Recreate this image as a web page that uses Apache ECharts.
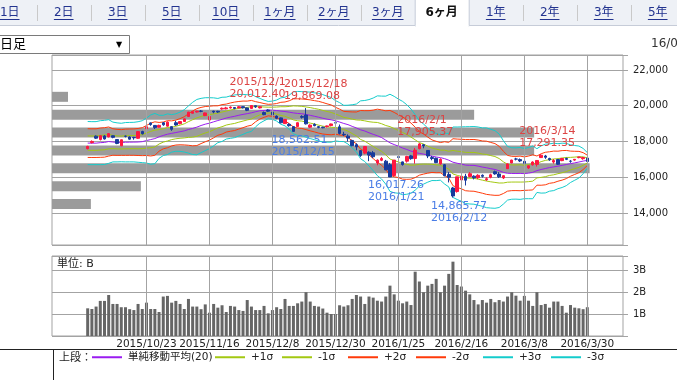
<!DOCTYPE html>
<html><head><meta charset="utf-8">
<script src="https://cdn.jsdelivr.net/npm/echarts@6/dist/echarts.min.js"></script>
<style>html,body{margin:0;padding:0;background:#fff;overflow:hidden}#c{width:677px;height:380px}</style>
</head><body><div id="c"></div>
<script>
// ---------------- data ----------------
const dates = [
'2015/10/2','2015/10/5','2015/10/6','2015/10/7','2015/10/8','2015/10/9','2015/10/13','2015/10/14','2015/10/15','2015/10/16','2015/10/19','2015/10/20','2015/10/21','2015/10/22','2015/10/23','2015/10/26','2015/10/27','2015/10/28','2015/10/29','2015/10/30',
'2015/11/2','2015/11/4','2015/11/5','2015/11/6','2015/11/9','2015/11/10','2015/11/11','2015/11/12','2015/11/13','2015/11/16','2015/11/17','2015/11/18','2015/11/19','2015/11/20','2015/11/24','2015/11/25','2015/11/26','2015/11/27','2015/11/30',
'2015/12/1','2015/12/2','2015/12/3','2015/12/4','2015/12/7','2015/12/8','2015/12/9','2015/12/10','2015/12/11','2015/12/14','2015/12/15','2015/12/16','2015/12/17','2015/12/18','2015/12/21','2015/12/22','2015/12/24','2015/12/25','2015/12/28','2015/12/29','2015/12/30',
'2016/1/4','2016/1/5','2016/1/6','2016/1/7','2016/1/8','2016/1/12','2016/1/13','2016/1/14','2016/1/15','2016/1/18','2016/1/19','2016/1/20','2016/1/21','2016/1/22','2016/1/25','2016/1/26','2016/1/27','2016/1/28','2016/1/29',
'2016/2/1','2016/2/2','2016/2/3','2016/2/4','2016/2/5','2016/2/8','2016/2/9','2016/2/10','2016/2/12','2016/2/15','2016/2/16','2016/2/17','2016/2/18','2016/2/19','2016/2/22','2016/2/23','2016/2/24','2016/2/25','2016/2/26','2016/2/29',
'2016/3/1','2016/3/2','2016/3/3','2016/3/4','2016/3/7','2016/3/8','2016/3/9','2016/3/10','2016/3/11','2016/3/14','2016/3/15','2016/3/16','2016/3/17','2016/3/18','2016/3/22','2016/3/23','2016/3/24','2016/3/25','2016/3/28','2016/3/29','2016/3/30'];

// [open, close, low, high]
const ohlc = [
[17600,17725,17560,17760],[17940,18005,17890,18060],[18300,18186,18140,18340],[18110,18322,18060,18340],[18310,18141,18110,18360],
[18260,18438,18230,18470],[18320,18234,18180,18340],[18110,17891,17850,18130],[17760,18097,17740,18110],[18300,18291,18230,18330],
[18250,18131,18100,18290],[18230,18207,18100,18260],[18180,18554,18150,18580],[18560,18435,18390,18600],[18720,18825,18700,18860],
[19040,18947,18880,19060],[18900,18777,18700,18920],[18800,18903,18780,18940],[19050,18935,18880,19080],[18860,19083,18830,19130],
[18830,18683,18600,18850],[19050,18927,18880,19160],[19000,19116,18960,19140],[19120,19265,19100,19300],[19400,19643,19390,19660],
[19580,19671,19570,19700],[19650,19698,19620,19720],[19700,19691,19640,19760],[19450,19597,19420,19620],[19200,19394,19150,19420],
[19700,19650,19580,19720],[19690,19649,19600,19720],[19820,19860,19780,19900],[19830,19880,19800,19940],[19880,19925,19840,19960],
[19900,19848,19800,19920],[19880,19944,19860,19980],[19950,19884,19850,19960],[19880,19747,19700,19900],[19850,20012.40,19840,20012.40],
[20000,19938,19880,20010],[19880,19940,19850,19960],[19620,19504,19470,19680],[19760,19698,19660,19800],[19640,19493,19460,19660],
[19420,19301,19250,19460],[19320,19047,19010,19340],[19000,19230,18980,19250],[18960,18883,18830,19020],[18830,18566,18562.51,18860],
[18840,19050,18820,19080],[19400,19354,19280,19470],[19480,18987,18950,19869.08],[18800,18916,18750,18960],[18960,18887,18850,19020],
[18830,18790,18740,18870],[18800,18769,18740,18830],[18830,18873,18780,18890],[18890,18982,18850,19000],[19050,19034,18990,19110],
[18820,18451,18390,18950],[18400,18374,18300,18540],[18300,18191,18000,18400],[18060,17767,17730,18100],[17820,17698,17510,17900],
[17490,17219,17140,17520],[17350,17716,17290,17750],[17400,17241,16900,17450],[17370,17147,17070,17470],[16800,16956,16670,17000],
[16950,17048,16900,17130],[16900,16416,16390,16970],[16700,16017.26,16017.26,16800],[16100,16959,16080,16960],[17150,17111,17020,17200],
[16860,16709,16650,16880],[16900,17164,16820,17200],[17200,17041,16980,17250],[17050,17518,16760,17640],[17600,17865,17560,17905.37],
[17820,17751,17620,17840],[17500,17191,17070,17520],[17100,17045,16950,17190],[17060,16820,16790,17100],[16750,17004,16700,17060],
[16700,16085,16050,16740],[16150,16003,15710,16290],[15400,14953,14865.77,15460],[15200,16023,15140,16030],[15850,16054,15830,16240],
[16050,15836,15540,16190],[16040,16197,16000,16290],[16060,15967,15880,16110],[15970,16111,15900,16170],[16110,16052,15980,16160],
[15860,15916,15800,16000],[16000,16140,15940,16200],[16310,16188,16140,16370],[16180,16027,15960,16290],[15960,16086,15900,16110],
[16480,16747,16470,16770],[16800,16960,16780,16980],[17020,17015,16940,17090],[16990,16911,16850,17050],[16890,16783,16730,16930],
[16520,16642,16460,16670],[16700,16852,16650,16890],[16720,16939,16600,16960],[17100,17234,17080,17291.35],[17190,17117,17030,17250],
[17050,16974,16920,17090],[16850,16936,16760,17020],[16990,16725,16690,17030],[16930,17049,16900,17080],[17050,17001,16960,17100],
[16900,16892,16810,16960],[16960,17003,16920,17020],[17100,17134,17060,17150],[17040,17104,16980,17140],[17070,16879,16850,17090]];

// volume, billions of shares
const volume = [
1.27,1.24,1.35,1.61,1.61,1.88,1.47,1.47,1.32,1.32,
1.23,1.19,1.47,1.24,1.53,1.24,1.24,1.10,1.81,1.84,
1.53,1.61,1.47,1.24,1.70,1.35,1.35,1.23,1.45,1.07,
1.47,1.30,1.41,1.10,1.38,1.35,1.19,1.15,1.65,1.35,
1.19,1.19,1.38,1.04,1.19,1.32,1.24,1.70,1.38,1.38,
1.50,1.58,2.01,1.58,1.38,1.35,1.26,1.07,1.01,1.01,
1.41,1.35,1.41,1.70,1.88,1.81,1.47,1.81,1.76,1.62,
1.58,1.81,2.31,1.91,1.62,1.50,1.58,1.42,2.95,2.50,
2.01,2.31,2.39,2.62,2.01,2.31,2.85,3.41,2.34,2.27,
2.08,1.91,1.65,1.45,1.65,1.53,1.70,1.55,1.65,1.58,
1.81,2.01,1.85,1.62,1.84,1.62,1.38,2.01,1.42,1.47,
1.30,1.58,1.58,1.38,1.07,1.42,1.30,1.27,1.23,1.32];

// 20-day simple moving average
const ma20 = [
17912,17907,17908,17934,17948,17999,17972,17951,17943,17959,17964,17966,17972,17991,18054,18107,18164,18262,18340,18408,
18455,18501,18548,18595,18670,18732,18805,18895,18970,19025,19101,19173,19239,19311,19365,19410,19468,19517,19558,19604,
19667,19718,19737,19758,19751,19732,19700,19677,19641,19600,19570,19555,19511,19463,19412,19359,19300,19250,19211,19162,
19088,19009,18944,18847,18758,18654,18587,18488,18401,18321,18221,18074,17926,17828,17739,17635,17554,17463,17390,17332,
17297,17238,17180,17133,17098,17041,16955,16841,16784,16739,16678,16667,16665,16622,16569,16530,16479,16436,16362,16273,
16223,16211,16210,16214,16203,16231,16273,16373,16433,16487,16543,16580,16618,16665,16712,16761,16804,16851,16904,16944];

// 20-day standard deviation (σ)
const sigma = [
402,401,401,410,412,407,371,364,359,367,368,369,378,391,419,459,469,402,375,379,
350,349,366,394,440,487,516,506,493,475,447,412,412,391,396,398,386,373,351,347,
281,231,193,161,170,196,246,267,318,392,410,412,423,433,437,444,441,429,417,376,
362,338,362,403,446,540,569,619,677,744,773,821,906,899,878,870,835,785,704,608,
560,504,455,440,421,473,498,657,676,693,716,721,724,730,731,744,734,724,685,592,
500,480,478,484,468,477,492,408,440,455,441,442,420,413,394,351,324,298,236,145];

const tickDates = ['2015/10/23','2015/11/16','2015/12/8','2015/12/30','2016/1/25','2016/2/16','2016/3/8','2016/3/30'];

// volume by price band
const priceBands = ['14000-15000','15000-16000','16000-17000','17000-18000','18000-19000','19000-20000','20000-21000','21000-22000'];
const priceBandVolume = [3.5, 8.0, 48.4, 43.4, 43.4, 38.0, 1.44, 0];

const extremes = [
  {date:'2015/12/1',  price:20012.40, kind:'high'},
  {date:'2015/12/18', price:19869.08, kind:'high'},
  {date:'2015/12/15', price:18562.51, kind:'low'},
  {date:'2016/1/21',  price:16017.26, kind:'low'},
  {date:'2016/2/1',   price:17905.37, kind:'high'},
  {date:'2016/2/12',  price:14865.77, kind:'low'},
  {date:'2016/3/14',  price:17291.35, kind:'high'}];

const bandNames = ['単純移動平均(20)','+1σ','-1σ','+2σ','-2σ','+3σ','-3σ'];
const bandK = [0, 1, -1, 2, -2, 3, -3];
const bandColors = ['#9a1cf0','#a3c812','#a3c812','#ff3a0a','#ff3a0a','#14cccc','#14cccc'];

const tabs = ['1日','2日','3日','5日','10日','1ヶ月','2ヶ月','3ヶ月','6ヶ月','1年','2年','3年','5年'];
const selectedTab = '6ヶ月';

// ---------------- chart ----------------
const FF = '"DejaVu Sans", "Noto Sans CJK JP", sans-serif';
const PAD = 8;
const padL = Array.from({length: PAD}, (_, i) => 'padL' + i);
const padR = Array.from({length: PAD}, (_, i) => 'padR' + i);
const cats = padL.concat(dates, padR);
const emptyN = Array(PAD).fill(null);
const candleData = Array(PAD).fill(['-','-','-','-']).concat(ohlc, Array(PAD).fill(['-','-','-','-']));
const volData = Array(PAD).fill('-').concat(volume, Array(PAD).fill('-'));

const fmt2 = v => v.toLocaleString('en-US', {minimumFractionDigits: 2, maximumFractionDigits: 2});
const gridColor = '#a3a3a3';

const vLines = {
  silent: true, symbol: ['none', 'none'], animation: false,
  label: {show: false}, emphasis: {disabled: true},
  lineStyle: {color: gridColor, width: 1, type: 'solid'},
  data: tickDates.map(d => ({xAxis: d}))
};

const bandSeries = bandNames.map((name, j) => ({
  name, type: 'line', xAxisIndex: 0, yAxisIndex: 0, symbol: 'none', silent: true,
  z: 3,
  lineStyle: {color: bandColors[j], width: 1},
  itemStyle: {color: bandColors[j]},
  data: emptyN.concat(ma20.map((m, i) => m + bandK[j] * sigma[i]), emptyN)
}));

// tab graphics
const mctx = document.createElement('canvas').getContext('2d');
function tw(text, font) { mctx.font = font; return mctx.measureText(text).width; }
const graphics = [];
graphics.push({type: 'rect', silent: true, shape: {x: 0, y: 0, width: 677, height: 25}, style: {fill: '#eef1f6'}});
graphics.push({type: 'line', silent: true, shape: {x1: 0, y1: 25.5, x2: 677, y2: 25.5}, style: {stroke: '#c6ccd8', lineWidth: 1}});
tabs.forEach((t, i) => {
  const cx = 9.7 + 54 * i;
  const sel = t === selectedTab;
  if (sel) {
    graphics.push({type: 'rect', silent: true, shape: {x: cx - 26.5, y: -1, width: 54, height: 27}, style: {fill: '#fff', stroke: '#c6ccd8', lineWidth: 1}});
    graphics.push({type: 'rect', silent: true, shape: {x: cx - 26, y: 25, width: 53, height: 2}, style: {fill: '#fff'}});
  } else {
    const nextSel = tabs[i + 1] === selectedTab;
    if (i < tabs.length - 1 && !nextSel) {
      const sx = Math.round(cx + 27) + 0.5;
      graphics.push({type: 'line', silent: true, shape: {x1: sx, y1: 5, x2: sx, y2: 21}, style: {stroke: '#c9c9c9', lineWidth: 1}});
    }
  }
  const font = (sel ? 'bold ' : '') + '12px ' + FF;
  graphics.push({type: 'text', silent: true, x: cx, y: 13, style: {text: t, font, fill: sel ? '#111' : '#22338f', align: 'center', verticalAlign: 'middle'}});
  if (!sel) {
    const w = tw(t, font);
    graphics.push({type: 'line', silent: true, shape: {x1: cx - w / 2, y1: 19.5, x2: cx + w / 2, y2: 19.5}, style: {stroke: '#22338f', lineWidth: 1}});
  }
});
// period select box
graphics.push({type: 'rect', silent: true, shape: {x: -1.5, y: 35.5, width: 131, height: 18}, style: {fill: '#fff', stroke: '#7a7a7a', lineWidth: 1}});
graphics.push({type: 'text', silent: true, x: 0, y: 45, style: {text: '日足', font: '13px ' + FF, fill: '#000', verticalAlign: 'middle'}});
graphics.push({type: 'text', silent: true, x: 116, y: 45, style: {text: '▼', font: '8px ' + FF, fill: '#000', verticalAlign: 'middle'}});
graphics.push({type: 'text', silent: true, x: 651, y: 44, style: {text: '16/03/30', font: '12px ' + FF, fill: '#333', verticalAlign: 'middle'}});
// unit label and legend box
graphics.push({type: 'text', silent: true, x: 57, y: 264, style: {text: '単位: B', font: '11px ' + FF, fill: '#222', verticalAlign: 'middle'}});
graphics.push({type: 'line', silent: true, shape: {x1: 0, y1: 349.5, x2: 677, y2: 349.5}, style: {stroke: '#222', lineWidth: 1}});
graphics.push({type: 'line', silent: true, shape: {x1: 53.5, y1: 349.5, x2: 53.5, y2: 381}, style: {stroke: '#222', lineWidth: 1}});
graphics.push({type: 'text', silent: true, x: 59, y: 358, style: {text: '上段：', font: '11px ' + FF, fill: '#222', verticalAlign: 'middle'}});

const legendLeft = [92, 215, 282, 348, 416, 483, 551];

const option = {
  animation: false,
  textStyle: {fontFamily: FF},
  graphic: graphics,
  legend: bandNames.map((n, i) => ({
    data: [n], left: legendLeft[i], top: 352, padding: 0, itemGap: 0,
    itemWidth: 30, itemHeight: 2, icon: 'rect', selectedMode: false,
    textStyle: {fontSize: 10.5, color: '#222', fontFamily: FF, padding: [0, 0, 0, 1]}
  })),
  grid: [
    {left: 52, right: 54, top: 55, height: 190, show: true, borderColor: gridColor, borderWidth: 1},
    {left: 52, right: 54, top: 256, height: 80, show: true, borderColor: gridColor, borderWidth: 1},
    {left: 52, right: 54, top: 70, height: 143, show: false}
  ],
  xAxis: [
    {gridIndex: 0, type: 'category', data: cats, boundaryGap: true,
     axisLine: {show: false}, axisTick: {show: false}, axisLabel: {show: false}, splitLine: {show: false}},
    {gridIndex: 1, type: 'category', data: cats, boundaryGap: true,
     axisLine: {show: false}, axisTick: {show: false}, splitLine: {show: false},
     axisLabel: {interval: (i, v) => tickDates.includes(v), color: '#222', fontSize: 10.5, margin: 3, fontFamily: FF}},
    {gridIndex: 2, type: 'value', min: 0, max: 51.4, show: false}
  ],
  yAxis: [
    {gridIndex: 0, type: 'value', position: 'right', min: 12210, max: 22839, splitNumber: 5, scale: true,
     axisLine: {show: false},
     axisTick: {show: true, length: 5, lineStyle: {color: gridColor}},
     splitLine: {show: true, lineStyle: {color: gridColor, width: 1}},
     axisLabel: {margin: 10, color: '#222', fontSize: 10, fontFamily: FF,
       formatter: v => (v % 2000 === 0 && v >= 14000 && v <= 22000) ? v.toLocaleString('en-US') : ''}},
    {gridIndex: 1, type: 'value', position: 'right', min: 0, max: 3.67, interval: 1,
     axisLine: {show: false},
     axisTick: {show: true, length: 5, lineStyle: {color: gridColor}},
     splitLine: {show: true, lineStyle: {color: gridColor, width: 1}},
     axisLabel: {margin: 10, color: '#222', fontSize: 10, fontFamily: FF,
       formatter: v => (v >= 1 && v <= 3 && Math.abs(v - Math.round(v)) < 1e-9) ? Math.round(v) + 'B' : ''}},
    {gridIndex: 2, type: 'category', data: priceBands, show: false}
  ],
  series: [
    {name: '価格帯別出来高', type: 'bar', xAxisIndex: 2, yAxisIndex: 2, data: priceBandVolume,
     barWidth: 10, silent: true, z: 1, itemStyle: {color: '#9b9b9b'}},
    ...bandSeries,
    {name: '日経平均', type: 'candlestick', xAxisIndex: 0, yAxisIndex: 0, data: candleData, barWidth: 3, z: 4,
     silent: true,
     itemStyle: {color: '#ff1740', color0: '#173a9c', borderColor: '#ff1740', borderColor0: '#173a9c', borderWidth: 1},
     markLine: vLines,
     markPoint: {
       silent: true, animation: false, symbol: 'circle', symbolSize: 1,
       itemStyle: {color: 'rgba(0,0,0,0)'},
       data: extremes.map(e => ({
         coord: [e.date, e.price],
         label: {
           show: true,
           position: e.kind === 'high' ? 'top' : 'bottom',
           distance: e.kind === 'high' ? 5 : 2,
           align: 'left', offset: [-22, 0],
           color: e.kind === 'high' ? '#dc4444' : '#4a7de6',
           fontSize: 11, lineHeight: 12, fontFamily: FF,
           formatter: e.kind === 'high' ? (e.date + '\n' + fmt2(e.price)) : (fmt2(e.price) + '\n' + e.date)
         }
       }))
     }},
    {name: '出来高', type: 'bar', xAxisIndex: 1, yAxisIndex: 1, data: volData, barWidth: 3, silent: true,
     itemStyle: {color: '#666666'}, markLine: vLines}
  ]
};

const chart = echarts.init(document.getElementById('c'), null, {renderer: 'canvas'});
chart.setOption(option);
</script>
</body></html>
